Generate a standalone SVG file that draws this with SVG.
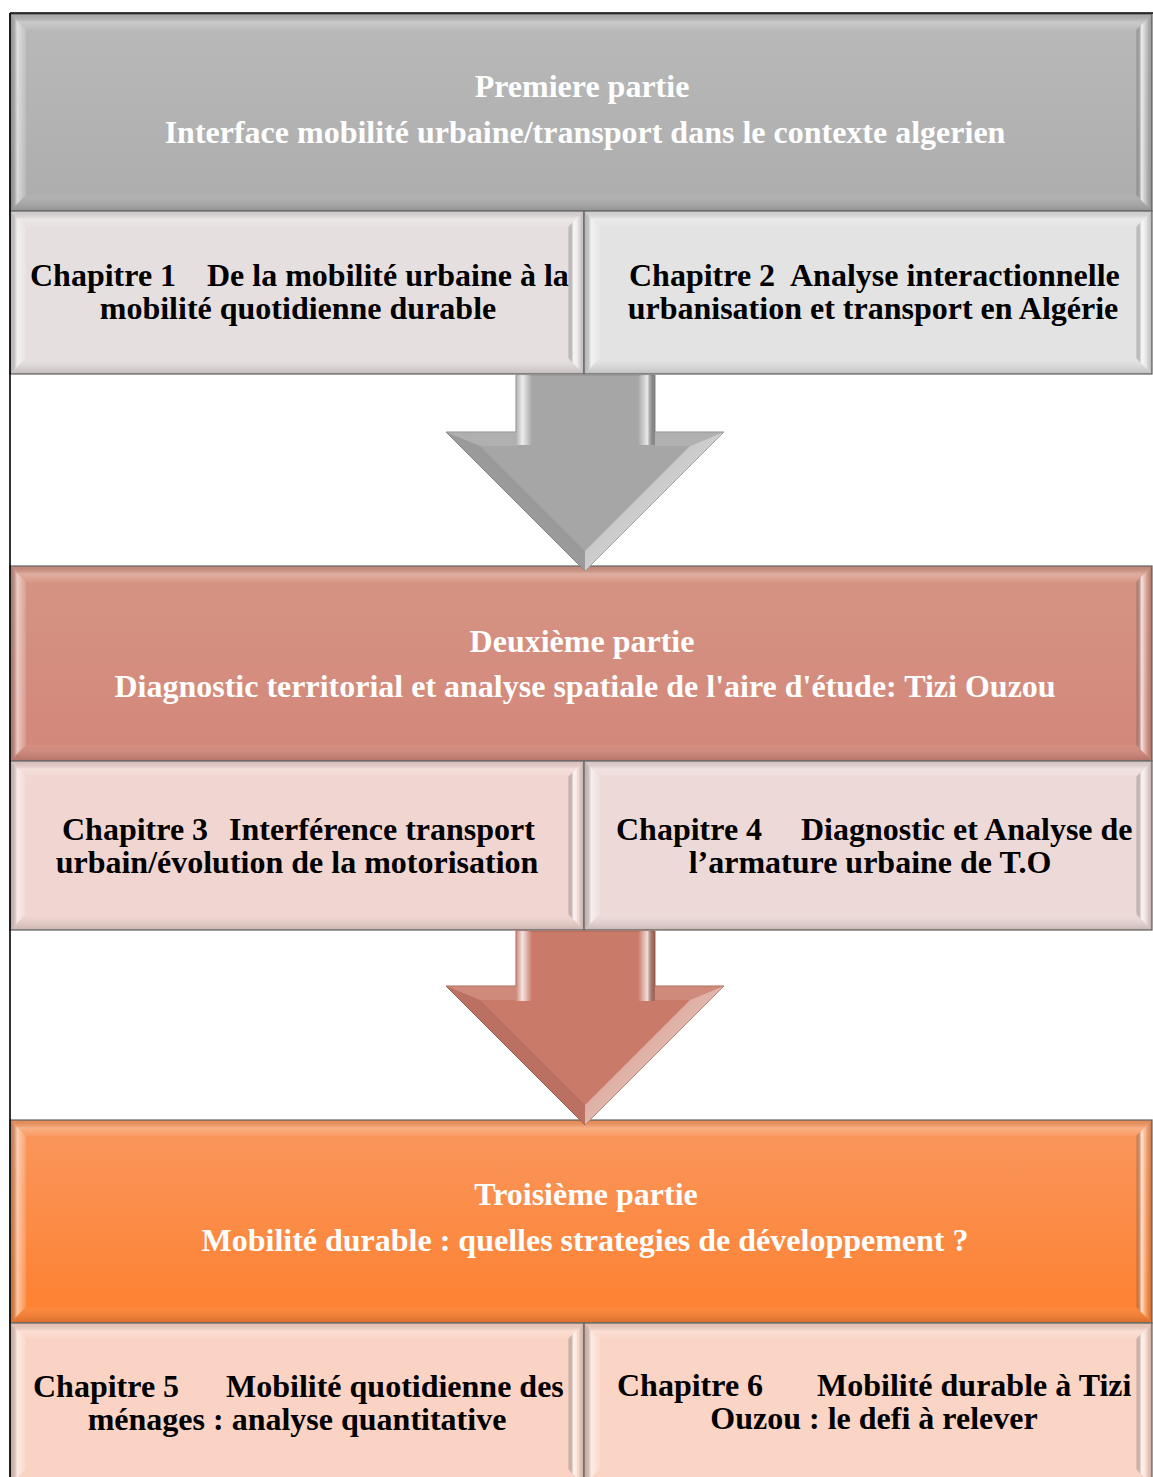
<svg xmlns="http://www.w3.org/2000/svg" width="1153" height="1477" viewBox="0 0 1153 1477">
<style>
.ttl{font-family:"Liberation Serif","Times New Roman",serif;font-weight:bold;font-size:32px;fill:#ffffff;text-anchor:middle}
.ch{font-family:"Liberation Serif","Times New Roman",serif;font-weight:bold;font-size:32px;fill:#000000}
.mid{text-anchor:middle}
.box{stroke:#6e6e6e;stroke-width:1.3}
.bl{fill:url(#bevL)}
.bt{fill:url(#bevT)}
.br{fill:url(#bevR)}
.bb{fill:url(#bevB)}
.frame{stroke:#000;stroke-width:1.6;fill:none}
</style>
<defs>
<linearGradient id="gP1" x1="0" y1="0" x2="0" y2="1"><stop offset="0" stop-color="#b9b9b9"/><stop offset="1" stop-color="#adadad"/></linearGradient>
<linearGradient id="gP2" x1="0" y1="0" x2="0" y2="1"><stop offset="0" stop-color="#d59483"/><stop offset="1" stop-color="#d3877a"/></linearGradient>
<linearGradient id="gP3" x1="0" y1="0" x2="0" y2="1"><stop offset="0" stop-color="#f9975e"/><stop offset="1" stop-color="#fe802f"/></linearGradient>
<linearGradient id="bevL" x1="0" y1="0" x2="1" y2="0"><stop offset="0" stop-color="#000" stop-opacity="0.14"/><stop offset="0.45" stop-color="#fff" stop-opacity="0.55"/><stop offset="1" stop-color="#fff" stop-opacity="0.12"/></linearGradient>
<linearGradient id="bevR" x1="0" y1="0" x2="1" y2="0"><stop offset="0" stop-color="#000" stop-opacity="0.06"/><stop offset="0.35" stop-color="#fff" stop-opacity="0.75"/><stop offset="0.6" stop-color="#fff" stop-opacity="0.25"/><stop offset="1" stop-color="#000" stop-opacity="0.18"/></linearGradient>
<linearGradient id="bevT" x1="0" y1="0" x2="0" y2="1"><stop offset="0" stop-color="#000" stop-opacity="0.08"/><stop offset="0.5" stop-color="#fff" stop-opacity="0.25"/><stop offset="1" stop-color="#fff" stop-opacity="0.05"/></linearGradient>
<linearGradient id="bevB" x1="0" y1="0" x2="0" y2="1"><stop offset="0" stop-color="#fff" stop-opacity="0.05"/><stop offset="1" stop-color="#000" stop-opacity="0.16"/></linearGradient>
<linearGradient id="shL" x1="0" y1="0" x2="1" y2="0"><stop offset="0" stop-color="#fff" stop-opacity="0.1"/><stop offset="0.4" stop-color="#fff" stop-opacity="0.8"/><stop offset="1" stop-color="#fff" stop-opacity="0"/></linearGradient>
<linearGradient id="shR" x1="0" y1="0" x2="1" y2="0"><stop offset="0" stop-color="#fff" stop-opacity="0"/><stop offset="0.55" stop-color="#fff" stop-opacity="0.75"/><stop offset="1" stop-color="#000" stop-opacity="0.15"/></linearGradient>
<linearGradient id="hdR" x1="0" y1="0" x2="1" y2="1"><stop offset="0" stop-color="#fff" stop-opacity="0.05"/><stop offset="0.5" stop-color="#fff" stop-opacity="0.45"/><stop offset="1" stop-color="#fff" stop-opacity="0.1"/></linearGradient>
</defs>

<rect width="1153" height="1477" fill="#ffffff"/>

<g id="part1">
<rect class="box" x="10" y="14" width="1142" height="197" fill="url(#gP1)"/>
<polygon class="bl" points="10,14 26,30 26,195 10,211"/>
<polygon class="bt" points="10,14 1152,14 1136,30 26,30"/>
<polygon class="br" points="1152,14 1152,211 1136,195 1136,30"/>
<polygon class="bb" points="10,211 1152,211 1136,195 26,195"/>
<text class="ttl" x="582" y="97">Premiere partie</text>
<text class="ttl" x="585" y="143">Interface mobilité urbaine/transport dans le contexte algerien</text>
</g>

<g id="ch1">
<rect class="box" x="10" y="211" width="574" height="163" fill="#e6dfe0"/>
<polygon class="bl" points="10,211 26,227 26,358 10,374"/>
<polygon class="bt" points="10,211 584,211 568,227 26,227"/>
<polygon class="br" points="584,211 584,374 568,358 568,227"/>
<polygon class="bb" points="10,374 584,374 568,358 26,358"/>
<text class="ch" y="286"><tspan x="30">Chapitre 1 </tspan><tspan x="207">De la mobilité urbaine à la</tspan></text>
<text class="ch mid" x="298" y="319">mobilité quotidienne durable</text>
</g>

<g id="ch2">
<rect class="box" x="584" y="211" width="568" height="163" fill="#e3e3e3"/>
<polygon class="bl" points="584,211 600,227 600,358 584,374"/>
<polygon class="bt" points="584,211 1152,211 1136,227 600,227"/>
<polygon class="br" points="1152,211 1152,374 1136,358 1136,227"/>
<polygon class="bb" points="584,374 1152,374 1136,358 600,358"/>
<text class="ch" y="286"><tspan x="629">Chapitre 2 </tspan><tspan x="790">Analyse interactionnelle</tspan></text>
<text class="ch mid" x="873" y="319">urbanisation et transport en Algérie</text>
</g>

<g id="part2">
<rect class="box" x="10" y="566" width="1142" height="195" fill="url(#gP2)"/>
<polygon class="bl" points="10,566 26,582 26,745 10,761"/>
<polygon class="bt" points="10,566 1152,566 1136,582 26,582"/>
<polygon class="br" points="1152,566 1152,761 1136,745 1136,582"/>
<polygon class="bb" points="10,761 1152,761 1136,745 26,745"/>
<text class="ttl" x="582" y="652">Deuxième partie</text>
<text class="ttl" x="585" y="697">Diagnostic territorial et analyse spatiale de l'aire d'étude: Tizi Ouzou</text>
</g>

<g id="ch3">
<rect class="box" x="10" y="761" width="574" height="169" fill="#f1d5d0"/>
<polygon class="bl" points="10,761 26,777 26,914 10,930"/>
<polygon class="bt" points="10,761 584,761 568,777 26,777"/>
<polygon class="br" points="584,761 584,930 568,914 568,777"/>
<polygon class="bb" points="10,930 584,930 568,914 26,914"/>
<text class="ch" y="840"><tspan x="62">Chapitre 3 </tspan><tspan x="229">Interférence transport</tspan></text>
<text class="ch mid" x="297" y="873">urbain/évolution de la motorisation</text>
</g>

<g id="ch4">
<rect class="box" x="584" y="761" width="568" height="169" fill="#eddad8"/>
<polygon class="bl" points="584,761 600,777 600,914 584,930"/>
<polygon class="bt" points="584,761 1152,761 1136,777 600,777"/>
<polygon class="br" points="1152,761 1152,930 1136,914 1136,777"/>
<polygon class="bb" points="584,930 1152,930 1136,914 600,914"/>
<text class="ch" y="840"><tspan x="616">Chapitre 4 </tspan><tspan x="801">Diagnostic et Analyse de</tspan></text>
<text class="ch mid" x="870" y="873">l’armature urbaine de T.O</text>
</g>

<g id="part3">
<rect class="box" x="10" y="1120" width="1142" height="203" fill="url(#gP3)"/>
<polygon class="bl" points="10,1120 26,1136 26,1307 10,1323"/>
<polygon class="bt" points="10,1120 1152,1120 1136,1136 26,1136"/>
<polygon class="br" points="1152,1120 1152,1323 1136,1307 1136,1136"/>
<polygon class="bb" points="10,1323 1152,1323 1136,1307 26,1307"/>
<text class="ttl" x="586" y="1205">Troisième partie</text>
<text class="ttl" x="585" y="1251">Mobilité durable : quelles strategies de développement ?</text>
</g>

<g id="ch5">
<rect class="box" x="10" y="1323" width="574" height="162" fill="#fad3c4"/>
<polygon class="bl" points="10,1323 26,1339 26,1469 10,1485"/>
<polygon class="bt" points="10,1323 584,1323 568,1339 26,1339"/>
<polygon class="br" points="584,1323 584,1485 568,1469 568,1339"/>
<text class="ch" y="1397"><tspan x="33">Chapitre 5 </tspan><tspan x="226">Mobilité quotidienne des</tspan></text>
<text class="ch mid" x="297" y="1430">ménages : analyse quantitative</text>
</g>

<g id="ch6">
<rect class="box" x="584" y="1323" width="568" height="162" fill="#fad4c5"/>
<polygon class="bl" points="584,1323 600,1339 600,1469 584,1485"/>
<polygon class="bt" points="584,1323 1152,1323 1136,1339 600,1339"/>
<polygon class="br" points="1152,1323 1152,1485 1136,1469 1136,1339"/>
<text class="ch" y="1396"><tspan x="617">Chapitre 6 </tspan><tspan x="817">Mobilité durable à Tizi</tspan></text>
<text class="ch mid" x="874" y="1429">Ouzou : le defi à relever</text>
</g>

<g id="connectors">
<g id="arrow1">
<polygon points="516,375 655,375 655,432 724,432 585,571 446,432 516,432" fill="#a6a6a6" stroke="#8a8a8a" stroke-width="1"/>
<rect x="516" y="375" width="16" height="70" fill="url(#shL)"/>
<rect x="638" y="375" width="17" height="70" fill="url(#shR)"/>
<polygon points="446,432 480,446 585,551 585,571" fill="#000" fill-opacity="0.07"/>
<polygon points="724,432 690,446 585,551 585,571" fill="url(#hdR)"/>
<polygon points="446,432 516,432 516,446 480,446" fill="#fff" fill-opacity="0.12"/>
<polygon points="655,432 724,432 690,446 655,446" fill="#fff" fill-opacity="0.12"/>
</g>
<g id="arrow2">
<polygon points="516,931 655,931 655,986 724,986 585,1125 446,986 516,986" fill="#c97a69" stroke="#a86353" stroke-width="1"/>
<rect x="516" y="931" width="16" height="70" fill="url(#shL)"/>
<rect x="638" y="931" width="17" height="70" fill="url(#shR)"/>
<polygon points="446,986 480,1000 585,1105 585,1125" fill="#000" fill-opacity="0.07"/>
<polygon points="724,986 690,1000 585,1105 585,1125" fill="url(#hdR)"/>
<polygon points="446,986 516,986 516,1000 480,1000" fill="#fff" fill-opacity="0.12"/>
<polygon points="655,986 724,986 690,1000 655,1000" fill="#fff" fill-opacity="0.12"/>
</g>
</g>

<g id="frame">
<line class="frame" x1="10" y1="13" x2="1153" y2="13"/>
<line class="frame" x1="10" y1="13" x2="10" y2="1477"/>
</g>
</svg>
